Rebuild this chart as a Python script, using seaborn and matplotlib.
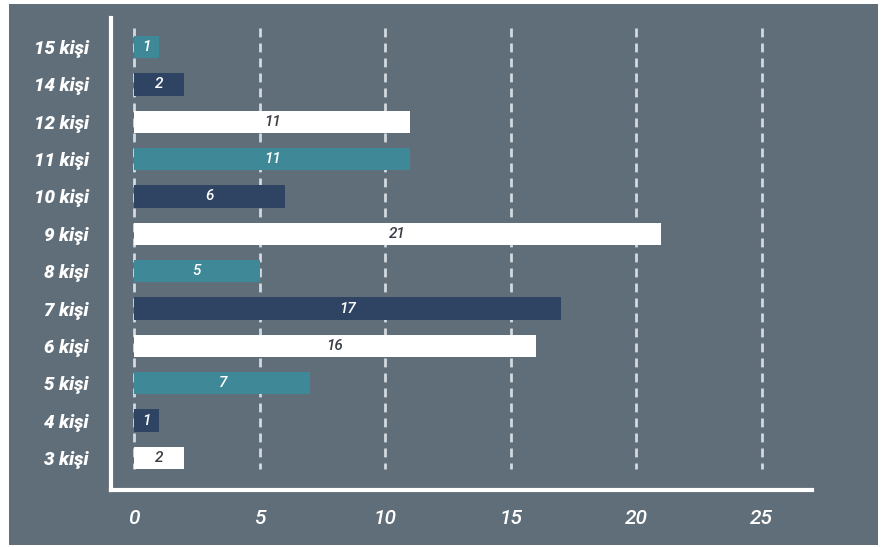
import seaborn as sns
import pandas as pd
import matplotlib.pyplot as plt
from matplotlib.patches import Rectangle

# Data (top to bottom)
groups = ['15 kişi', '14 kişi', '12 kişi', '11 kişi', '10 kişi', '9 kişi',
          '8 kişi', '7 kişi', '6 kişi', '5 kişi', '4 kişi', '3 kişi']
counts = [1, 2, 11, 11, 6, 21, 5, 17, 16, 7, 1, 2]
xticks = [0, 5, 10, 15, 20, 25]

teal = '#3e8897'
navy = '#2f4463'
white = '#ffffff'
bg = '#5f6e79'
bar_colors = [teal, navy, white] * 4
text_colors = {teal: 'white', navy: 'white', white: '#3a3f47'}

df = pd.DataFrame({'group': groups, 'count': counts})

sns.set_style('white')
plt.rcParams['font.family'] = ['Roboto', 'DejaVu Sans']

fig = plt.figure(figsize=(8.82, 5.47), dpi=100, facecolor='white')
fig.patches.append(Rectangle((9 / 882, 2 / 547), 869 / 882, 541 / 547,
                             transform=fig.transFigure, facecolor=bg,
                             edgecolor='none', zorder=-10))
ax = fig.add_axes([111 / 882, 57 / 547, 701 / 882, 472 / 547])
ax.set_facecolor(bg)

# dashed vertical guides behind the bars
ax.vlines(xticks, -0.5, 11.3, colors='#d3d9de', linewidth=2,
          linestyles=(0, (3.2, 2.2)), zorder=0)

sns.barplot(data=df, x='count', y='group', hue='group', order=groups,
            hue_order=groups, palette=dict(zip(groups, bar_colors)),
            width=0.6, legend=False, saturation=1, ax=ax, zorder=2,
            edgecolor='none', linewidth=0)

for cont, col in zip(ax.containers, bar_colors):
    ax.bar_label(cont, label_type='center', color=text_colors[col],
                 fontsize=11, fontstyle='italic', fontweight='medium')

ax.set_xlim(-0.92, 27.0)
ax.set_ylim(11.86, -0.78)
ax.set_xticks(xticks)
ax.set_xlabel('')
ax.set_ylabel('')

for side in ['top', 'right']:
    ax.spines[side].set_visible(False)
for side in ['left', 'bottom']:
    ax.spines[side].set_color('white')
    ax.spines[side].set_linewidth(3)

ax.tick_params(axis='x', length=0, pad=14, colors='white', labelsize=15)
ax.tick_params(axis='y', length=0, pad=16, colors='white', labelsize=13.5)
for lbl in ax.get_xticklabels():
    lbl.set_fontstyle('italic')
    lbl.set_fontweight('medium')
for lbl in ax.get_yticklabels():
    lbl.set_fontstyle('italic')
    lbl.set_fontweight('heavy')

plt.savefig('out.png', dpi=100, facecolor=fig.get_facecolor())
